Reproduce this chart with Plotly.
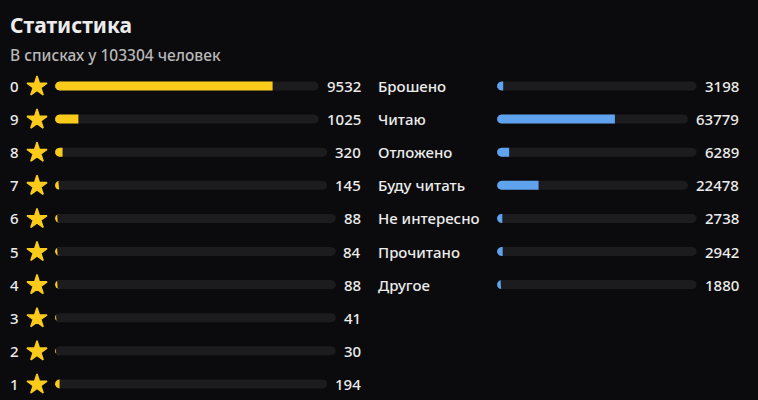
import numpy as np
import plotly.graph_objects as go

# ---- data ----
rating_labels = ["0", "9", "8", "7", "6", "5", "4", "3", "2", "1"]
rating_counts = [9532, 1025, 320, 145, 88, 84, 88, 41, 30, 194]
status_labels = ["Брошено", "Читаю", "Отложено", "Буду читать", "Не интересно", "Прочитано", "Другое"]
status_counts = [3198, 63779, 6289, 22478, 2738, 2942, 1880]
title_text = "Статистика"
subtitle_text = "В списках у 103304 человек"

# ---- style ----
BG = "#0b0b0d"
TRACK = "#1c1c1f"
YELLOW = "#fbcb1c"
BLUE = "#5fa2ee"
WHITE = "#ececec"
GRAY = "#b8b8b8"
FONT = "Noto Sans"
W, H = 758, 400
ROW0, ROWSTEP = 86, 33.1
R = 4.5
DIGIT_W = 8.6
GAP = 10

fig = go.Figure()


def rounded_poly(x0, x1, yc, r, xe=None, n=40):
    t = np.linspace(0, np.pi, n)
    dy = -r * np.cos(t)
    half = np.sqrt(np.maximum(r * r - dy * dy, 0))
    xl = x0 + r - half
    xr = x1 - r + half
    if xe is not None:
        xr = np.minimum(xr, xe)
    xr = np.maximum(xr, xl)
    xs = np.concatenate([xr, xl[::-1], xr[:1]])
    ys = np.concatenate([yc + dy, (yc + dy)[::-1], (yc + dy)[:1]])
    return xs, ys


def add_bar(x0, x1, yc, frac, color):
    xs, ys = rounded_poly(x0, x1, yc, R)
    fig.add_trace(go.Scatter(x=xs, y=ys, fill="toself", fillcolor=TRACK, mode="lines",
                             line=dict(width=0, color=TRACK), hoverinfo="skip", showlegend=False))
    xe = x0 + frac * (x1 - x0)
    if frac > 0:
        xs, ys = rounded_poly(x0, x1, yc, R, xe=xe)
        fig.add_trace(go.Scatter(x=xs, y=ys, fill="toself", fillcolor=color, mode="lines",
                                 line=dict(width=0, color=color), hoverinfo="skip", showlegend=False))


annotations = []


def text(x, y, s, size, color, anchor="left", bold=False, weight=500):
    annotations.append(dict(x=x, y=y, xref="x", yref="y", text=("<b>%s</b>" % s) if bold else s,
                            showarrow=False, xanchor=anchor, yanchor="middle",
                            font=dict(family=FONT, size=size, color=color, weight=weight)))


# title
text(8, 25, title_text, 21, WHITE, bold=True, weight=700)
text(8, 55, subtitle_text, 15.5, GRAY)

# left column: ratings
rtotal = sum(rating_counts)
L_LABEL, L_START, L_NUM = 8, 55, 363
star_x, star_y = [], []
for i, (lab, v) in enumerate(zip(rating_labels, rating_counts)):
    yc = ROW0 + i * ROWSTEP
    text(L_LABEL, yc, lab, 15, WHITE)
    star_x.append(37)
    star_y.append(yc + 0.5)
    x1 = L_NUM - len(str(v)) * DIGIT_W - GAP
    add_bar(L_START, x1, yc, v / rtotal, YELLOW)
    text(L_NUM, yc, str(v), 15, WHITE, anchor="right")

fig.add_trace(go.Scatter(x=star_x, y=star_y, mode="markers",
                         marker=dict(symbol="star", size=15, color=YELLOW, line=dict(width=1.5, color=YELLOW)),
                         hoverinfo="skip", showlegend=False))

# right column: statuses
stotal = sum(status_counts)
R_LABEL, R_START, R_NUM = 376, 497, 741
for i, (lab, v) in enumerate(zip(status_labels, status_counts)):
    yc = ROW0 + i * ROWSTEP
    text(R_LABEL, yc, lab, 15, WHITE)
    x1 = R_NUM - len(str(v)) * DIGIT_W - GAP
    add_bar(R_START, x1, yc, v / stotal, BLUE)
    text(R_NUM, yc, str(v), 15, WHITE, anchor="right")

fig.update_layout(
    width=W, height=H,
    margin=dict(l=0, r=0, t=0, b=0),
    paper_bgcolor=BG, plot_bgcolor=BG,
    xaxis=dict(range=[0, W], visible=False, fixedrange=True),
    yaxis=dict(range=[H, 0], visible=False, fixedrange=True),
    annotations=annotations,
    showlegend=False,
)

fig.write_html("out.html", config={"displayModeBar": False})
